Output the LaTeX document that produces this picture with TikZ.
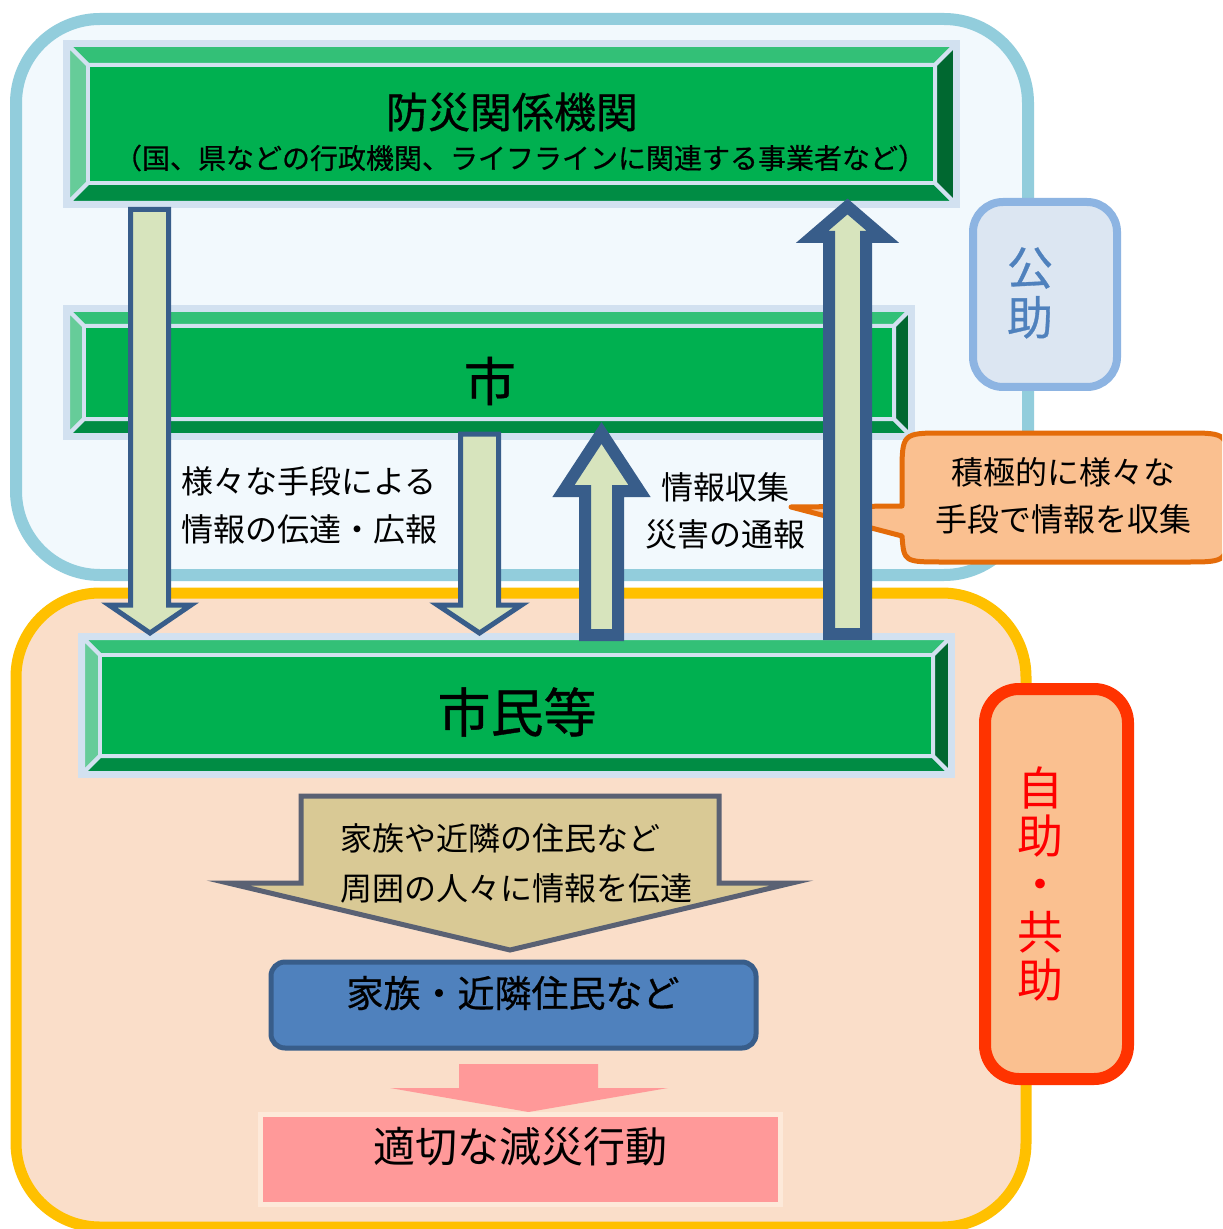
\documentclass[tikz,border=0pt]{standalone}
\usepackage{fontspec}
\setmainfont{Noto Sans CJK JP}
\newfontfamily\jpmed{Noto Sans CJK JP}[FakeBold=0.7]
\definecolor{regblue}{RGB}{146,205,220}
\definecolor{regbluefill}{RGB}{242,249,253}
\definecolor{regyellow}{RGB}{255,192,0}
\definecolor{regyellowfill}{RGB}{250,222,201}
\definecolor{framec}{RGB}{210,225,240}
\definecolor{face}{RGB}{0,176,80}
\definecolor{bevtop}{RGB}{51,192,119}
\definecolor{bevleft}{RGB}{102,204,153}
\definecolor{bevbot}{RGB}{0,140,68}
\definecolor{bevright}{RGB}{0,104,48}
\definecolor{arrfill}{RGB}{215,228,189}
\definecolor{arrline}{RGB}{56,93,138}
\definecolor{callfill}{RGB}{250,192,144}
\definecolor{callline}{RGB}{228,108,10}
\definecolor{kojoline}{RGB}{141,180,226}
\definecolor{kojofill}{RGB}{220,230,242}
\definecolor{kojotext}{RGB}{79,129,189}
\definecolor{jijoline}{RGB}{255,51,0}
\definecolor{jijotext}{RGB}{255,0,0}
\definecolor{pentfill}{RGB}{217,201,149}
\definecolor{pentline}{RGB}{90,97,115}
\definecolor{famfill}{RGB}{79,129,189}
\definecolor{famline}{RGB}{56,93,138}
\definecolor{pinkc}{RGB}{255,153,153}
\definecolor{pinkframe}{RGB}{253,233,217}
\newcommand\bevelbox[5]{%
  \fill[framec] (#1,#2) rectangle (#3,#4);
  \begin{scope}[draw=framec, line width=2pt, line join=round]
    \filldraw[fill=bevtop] ({#1+5},{#2+5}) -- ({#3-5},{#2+5}) -- ({#3-5-#5},{#2+5+#5}) -- ({#1+5+#5},{#2+5+#5}) -- cycle;
    \filldraw[fill=bevleft] ({#1+5},{#2+5}) -- ({#1+5+#5},{#2+5+#5}) -- ({#1+5+#5},{#4-5-#5}) -- ({#1+5},{#4-5}) -- cycle;
    \filldraw[fill=bevbot] ({#1+5},{#4-5}) -- ({#1+5+#5},{#4-5-#5}) -- ({#3-5-#5},{#4-5-#5}) -- ({#3-5},{#4-5}) -- cycle;
    \filldraw[fill=bevright] ({#3-5},{#2+5}) -- ({#3-5-#5},{#2+5+#5}) -- ({#3-5-#5},{#4-5-#5}) -- ({#3-5},{#4-5}) -- cycle;
    \filldraw[fill=face] ({#1+5+#5},{#2+5+#5}) rectangle ({#3-5-#5},{#4-5-#5});
  \end{scope}}
\tikzset{
  txt/.style={inner sep=0pt, text=black},
  thinarrow/.style={draw=arrline, fill=arrfill, line width=2.5pt, line join=miter},
  thickarrow/.style={draw=arrline, fill=arrfill, line width=6pt, line join=miter},
}
\begin{document}
\begin{tikzpicture}[x=0.5pt,y=-0.5pt]
\useasboundingbox (0,0) rectangle (1222,1229);
\clip (0,0) rectangle (1222,1229);
\fill[white] (0,0) rectangle (1222,1229);
% regions
\draw[line width=6pt, draw=regblue, fill=regbluefill, rounded corners=42pt] (16,19) rectangle (1028,575);
\draw[line width=5.5pt, draw=regyellow, fill=regyellowfill, rounded corners=42pt] (16,593) rectangle (1026,1227);
% bevel boxes
\bevelbox{63}{40}{960}{208}{20}
\bevelbox{63}{305}{915}{440}{16}
\bevelbox{78}{633}{955}{778}{17}
\node[txt, font=\jpmed\fontsize{21}{25}\selectfont] (kikan) at (512,112) {防災関係機関};
\node[txt, font=\jpmed\fontsize{14}{17}\selectfont] (kikansub) at (520,158) {（国、県などの行政機関、ライフラインに関連する事業者など）};
\node[txt, font=\jpmed\fontsize{26}{30}\selectfont] (shi) at (490,381) {市};
\node[txt, font=\jpmed\fontsize{26.5}{30}\selectfont] (shimin) at (517,712) {市民等};
% callout
\draw[fill=callfill, draw=callline, line width=2.5pt, line join=round]
  (902,506) -- (902,475) .. controls (902,433) .. (944,433) -- (1186,433)
  .. controls (1228,433) .. (1228,475) -- (1228,520) .. controls (1228,562) .. (1186,562)
  -- (944,562) .. controls (904,562) .. (902,536) -- (791,507) -- cycle;
\node[txt, align=center, font=\fontsize{16}{23.5}\selectfont] (callt) at (1063,496) {積極的に様々な\\手段で情報を収集};
% text labels
\node[txt, align=left, anchor=west, font=\fontsize{16}{24}\selectfont] (dentatsu) at (181,505) {様々な手段による\\情報の伝達・広報};
\node[txt, align=center, font=\fontsize{16}{23.5}\selectfont] (shushu) at (725,511) {情報収集\\災害の通報};
% down arrows
\draw[thinarrow] (130.5,209.5) -- (168.5,209.5) -- (168.5,605) -- (191,605) -- (150,633) -- (109,605) -- (130.5,605) -- cycle;
\draw[thinarrow] (460.5,434) -- (498.5,434) -- (498.5,605) -- (521.5,605) -- (479.5,633) -- (437.5,605) -- (460.5,605) -- cycle;
% up arrows
\draw[thickarrow] (585,635) -- (585,491) -- (563.5,491) -- (601.5,433) -- (639.5,491) -- (618,491) -- (618,635) -- cycle;
\draw[thickarrow] (829,634) -- (829,237) -- (812,237) -- (847.5,206.5) -- (883,237) -- (866,237) -- (866,634) -- cycle;
% side labels
\draw[draw=kojoline, fill=kojofill, line width=4pt, rounded corners=15pt] (973,202) rectangle (1117,387);
\node[inner sep=0pt, text=kojotext, align=center, font=\jpmed\fontsize{23}{25}\selectfont] (kojo) at (1030,293) {公\\助};
\draw[draw=jijoline, fill=callfill, line width=6pt, rounded corners=17pt] (985,689) rectangle (1128,1079);
\node[inner sep=0pt, text=jijotext, align=center, font=\fontsize{23}{24}\selectfont] (jijo) at (1040,884) {自\\助\\・\\共\\助};
% pentagon arrow
\draw[draw=pentline, fill=pentfill, line width=2.5pt, line join=miter] (301,796) -- (719,796) -- (719,883) -- (792,883) -- (510,950) -- (228,883) -- (301,883) -- cycle;
\node[txt, align=left, anchor=west, font=\fontsize{16}{25}\selectfont] (pentt) at (340,863) {家族や近隣の住民など\\周囲の人々に情報を伝達};
% family box
\draw[draw=famline, fill=famfill, line width=2.5pt, rounded corners=7pt] (271,962) rectangle (756,1048);
\node[txt, font=\jpmed\fontsize{18.5}{22}\selectfont] (fam) at (513,993) {家族・近隣住民など};
% pink arrow and box
\fill[pinkc] (459,1064) -- (598,1064) -- (598,1088) -- (668,1088) -- (528.5,1112) -- (390,1088) -- (459,1088) -- cycle;
\fill[pinkframe] (258,1112) rectangle (783,1207);
\fill[pinkc] (263,1117) rectangle (778,1202);
\node[txt, font=\fontsize{21}{25}\selectfont] (kodo) at (520,1147) {適切な減災行動};
\end{tikzpicture}
\end{document}
